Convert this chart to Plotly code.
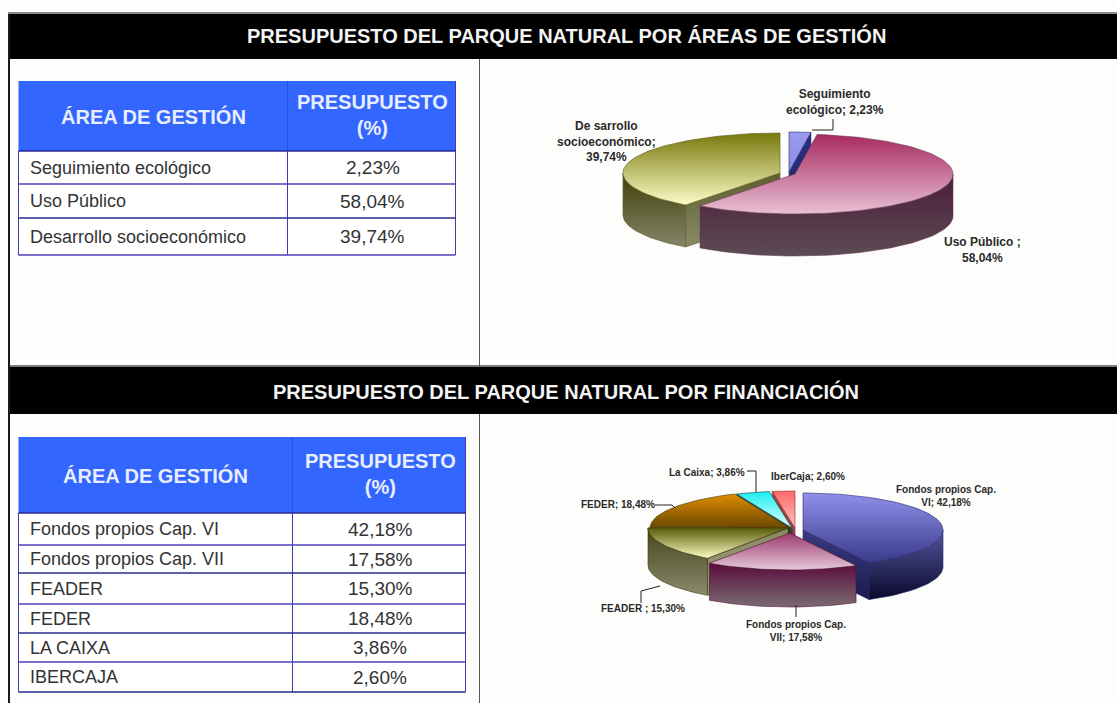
import math
import plotly.graph_objects as go

# ---------- data ----------
title_top = "PRESUPUESTO DEL PARQUE NATURAL POR ÁREAS DE GESTIÓN"
title_bottom = "PRESUPUESTO DEL PARQUE NATURAL POR FINANCIACIÓN"
col_area = "ÁREA DE GESTIÓN"
col_budget = "PRESUPUESTO<br>(%)"

areas = ["Seguimiento ecológico", "Uso Público", "Desarrollo socioeconómico"]
area_values = [2.23, 58.04, 39.74]
area_pie_labels = ["Seguimiento<br>ecológico; 2,23%", "Uso Público ;<br>58,04%",
                   "De sarrollo<br>socioeconómico;<br>39,74%"]

funds = ["Fondos propios Cap. VI", "Fondos propios Cap. VII", "FEADER", "FEDER", "LA CAIXA", "IBERCAJA"]
fund_values = [42.18, 17.58, 15.30, 18.48, 3.86, 2.60]
fund_pie_labels = ["Fondos propios Cap.<br>VI; 42,18%", "Fondos propios Cap.<br>VII; 17,58%",
                   "FEADER ; 15,30%", "FEDER; 18,48%", "La Caixa; 3,86%", "IberCaja; 2,60%"]

# ---------- styling / layout ----------
W, H = 1117, 703
FONT = "Liberation Sans"
PAGE = "#fdfdfb"
fig = go.Figure()
shapes, annos = [], []


def rect(x0, y0, x1, y1, fill, line=None, lw=0):
    shapes.append(dict(type="rect", xref="x", yref="y", x0=x0, y0=y0, x1=x1, y1=y1,
                       fillcolor=fill, line=dict(color=line or fill, width=lw), layer="below"))


def seg(x0, y0, x1, y1, color, lw=1):
    shapes.append(dict(type="line", xref="x", yref="y", x0=x0, y0=y0, x1=x1, y1=y1,
                       line=dict(color=color, width=lw), layer="above"))


def text(x, y, s, size, color, bold=False, anchor="center"):
    if bold:
        s = "<b>" + s.replace("<br>", "</b><br><b>") + "</b>"
    annos.append(dict(xref="x", yref="y", x=x, y=y, text=s, showarrow=False, xanchor=anchor,
                      yanchor="middle", align=anchor,
                      font=dict(family=FONT, size=size, color=color)))


# frames and title bands
rect(8, 12, W, 15, "#8a8a8a")
rect(8, 14, W, 59, "#000000")
rect(8, 365, W, 368, "#7a7a7a")
rect(8, 367, W, 414, "#000000")
rect(8, 14, 10, H, "#1a1a1a")
seg(479.5, 59, 479.5, 366, "#555555", 1)
seg(479.5, 414, 479.5, H, "#555555", 1)
text(566, 35, title_top, 20, "#f4f4f4", bold=True)
text(566, 391, title_bottom, 20, "#f4f4f4", bold=True)


def fmt(v):
    return f"{v:.2f}".replace(".", ",") + "%"


def table(x0, xm, x1, y_lines, names, vals, head_size, body_size):
    rect(x0, y_lines[0], x1, y_lines[1], "#3366ff")
    rect(x0, y_lines[1], x1, y_lines[-1], "#ffffff")
    seg(xm, y_lines[0], xm, y_lines[1], "#2a50d8", 1)
    seg(xm, y_lines[1], xm, y_lines[-1], "#4038b8", 1)
    seg(x0, y_lines[1], x0, y_lines[-1], "#4038b8", 1)
    seg(x1, y_lines[0], x1, y_lines[-1], "#4038b8", 1)
    for i, y in enumerate(y_lines[1:]):
        seg(x0, y, x1, y, "#2a2a90" if i % 2 == 0 else "#4a42b8", 1.4)
    hc = (y_lines[0] + y_lines[1]) / 2
    text((x0 + xm) / 2, hc, col_area, head_size, "#e8eeff", bold=True)
    text((xm + x1) / 2 + 1, hc - 1, col_budget, head_size, "#e8eeff", bold=True)
    for i, (n, v) in enumerate(zip(names, vals)):
        yc = (y_lines[i + 1] + y_lines[i + 2]) / 2
        text(x0 + 9.5, yc, n, body_size, "#333333", anchor="left")
        text((xm + x1) / 2 + 1, yc, fmt(v), body_size + 1, "#333333")


table(18.5, 287.5, 455.5, [81, 151, 184, 218, 255], areas, area_values, 20, 18)
table(18.5, 292.5, 465.5, [437, 513, 545, 573, 604, 633, 662, 692], funds, fund_values, 20, 18)


def pt(c, a, b, ang, dy=0):
    r = math.radians(ang)
    return c[0] + a * math.sin(r), c[1] - b * math.cos(r) + dy


def poly(points, colors, edge):
    xs = [p[0] for p in points] + [points[0][0]]
    ys = [p[1] for p in points] + [points[0][1]]
    # the y axis runs downwards, so the gradient stops are given bottom colour first
    fig.add_trace(go.Scatter(
        x=xs, y=ys, mode="lines", fill="toself", hoverinfo="skip", showlegend=False,
        line=dict(color=edge, width=0.6),
        fillgradient=dict(type="vertical", colorscale=[[0, colors[1]], [1, colors[0]]]),
    ))


def arc(c, a, b, a0, a1, dy=0):
    n = max(2, int(abs(a1 - a0) / 2))
    return [pt(c, a, b, a0 + (a1 - a0) * i / n, dy) for i in range(n + 1)]


def pie(values, a, b, depth, slices, order):
    total = sum(values)
    cum = 0
    ranges = []
    for v in values:
        ranges.append((cum, cum + 360 * v / total))
        cum += 360 * v / total
    for i in order:
        a0, a1 = ranges[i]
        s = slices[i]
        c = s["c"]
        ai = s.get("a", a)
        # radial cut faces that look towards the viewer
        if math.cos(math.radians(a1 + 90)) < 0:
            p = pt(c, ai, b, a1)
            poly([c, p, (p[0], p[1] + depth), (c[0], c[1] + depth)], s["cut"], s["edge"])
        if math.cos(math.radians(a0 - 90)) < 0:
            p = pt(c, ai, b, a0)
            poly([c, p, (p[0], p[1] + depth), (c[0], c[1] + depth)], s["cut"], s["edge"])
        # outer rim, front half only
        f0, f1 = max(a0, 90), min(a1, 270)
        if f1 > f0:
            top = arc(c, ai, b, f0, f1)
            bot = arc(c, ai, b, f1, f0, depth)
            poly(top + bot, s["side"], s["edge"])
        # top face
        poly([c] + arc(c, ai, b, a0, a1), s["top"], s["edge"])


pie(area_values, 157, 40, 42, [
    dict(c=(789, 172), top=("#9a9cf0", "#8a8ce8"), side=("#20206a", "#20206a"),
         cut=("#2a2f80", "#20256a"), edge="#28286a"),
    dict(c=(795, 174), a=158, top=("#a82a60", "#e8c0d4"), side=("#4c1c3a", "#5c4c54"),
         cut=("#4c1c3a", "#5c4c54"), edge="#6a3a55"),
    dict(c=(780, 173), top=("#78780c", "#fdfdc8"), side=("#3e3e08", "#85856a"),
         cut=("#5e5e30", "#8a8a68"), edge="#5a5a1a"),
], [0, 2, 1])

pie(fund_values, 140, 37, 37, [
    dict(c=(803, 530), top=("#8f90ea", "#3a3a8a"), side=("#55559f", "#08082a"),
         cut=("#3a3a80", "#1c1c50"), edge="#2a2a70"),
    dict(c=(790, 533), top=("#9c3a6e", "#e6c8d8"), side=("#5a0c3c", "#7a6a72"),
         cut=("#5a0c3c", "#7a6a72"), edge="#4a1030"),
    dict(c=(788, 528), top=("#5a5a08", "#fdfdc4"), side=("#45451a", "#8a8a6e"),
         cut=("#8a8a60", "#9a9a80"), edge="#3a3a10"),
    dict(c=(790, 528), top=("#e08c00", "#6a4800"), side=("#6a4800", "#6a4800"),
         cut=("#3a3a10", "#3a3a10"), edge="#3a3a10"),
    dict(c=(792, 528), top=("#18eef0", "#e8ffff"), side=("#108888", "#108888"),
         cut=("#20505a", "#20505a"), edge="#104040"),
    dict(c=(795, 528), top=("#ff6a6a", "#ffc0c0"), side=("#a04040", "#a04040"),
         cut=("#a04040", "#a04040"), edge="#803030"),
], [0, 5, 4, 3, 2, 1])

# pie labels
LBL = "#2a2a2a"
for pos, s in zip([(835, 102), (982, 250), (606, 141)], area_pie_labels):
    text(pos[0], pos[1], s, 12, LBL, bold=True)
for pos, s in zip([(946, 496), (796, 631), (643, 608), (618, 504), (707, 472), (808, 476)], fund_pie_labels):
    text(pos[0], pos[1], s, 10, LBL, bold=True)

# leader lines
for p in [[(812, 130), (833, 130), (833, 119)],
          [(747, 471), (756, 471), (756, 492)],
          [(655, 505), (672, 505), (675, 508)],
          [(641, 603), (641, 591), (660, 586)],
          [(796, 605), (796, 617)]]:
    for (x0, y0), (x1, y1) in zip(p, p[1:]):
        seg(x0, y0, x1, y1, "#222222", 1)

fig.update_layout(
    width=W, height=H, autosize=False, margin=dict(l=0, r=0, t=0, b=0),
    paper_bgcolor=PAGE, plot_bgcolor=PAGE, showlegend=False,
    xaxis=dict(range=[0, W], visible=False, fixedrange=True),
    yaxis=dict(range=[H, 0], visible=False, fixedrange=True),
    shapes=shapes, annotations=annos,
)
fig.write_html("out.html", config=dict(displayModeBar=False),
               post_script="document.body.style.margin='0';document.body.style.overflow='hidden';")
